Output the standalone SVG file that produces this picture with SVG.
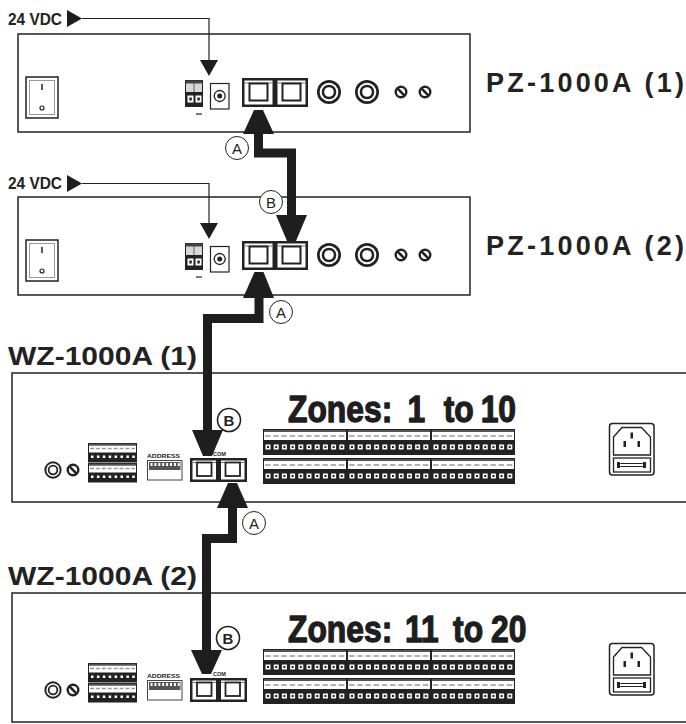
<svg xmlns="http://www.w3.org/2000/svg" width="686" height="724" viewBox="0 0 686 724">
<style>
.panel{fill:#fff;stroke:#222;stroke-width:1.5}
.lbl{font-family:"Liberation Sans",Arial,sans-serif;font-weight:bold;fill:#222}
.zt{font-family:"Liberation Sans",Arial,sans-serif;font-weight:bold;font-size:37px;fill:#1e1e1e;stroke:#1e1e1e;stroke-width:1.3;stroke-linejoin:round}
.conn{fill:none;stroke:#1e1e1e;stroke-width:9;stroke-linejoin:miter}
.head{fill:#1e1e1e}
.wire{fill:none;stroke:#222;stroke-width:1.2}
.circ{fill:#fff;stroke:#222;stroke-width:1}
.circb{fill:#fff;stroke:#222;stroke-width:1.6}
.ctxt{font-family:"Liberation Sans",Arial,sans-serif;font-size:15px;fill:#222;text-anchor:middle}
.ctxtb{font-family:"Liberation Sans",Arial,sans-serif;font-size:15px;font-weight:bold;fill:#222;text-anchor:middle}
.tiny{font-family:"Liberation Sans",Arial,sans-serif;font-weight:bold;font-size:6px;fill:#222}
.pin{fill:#fff}
.pinc{fill:#222}
</style>
<defs>
 <g id="rjport">
  <rect x="2.5" y="2.5" width="28" height="24" fill="#fff"/>
  <line x1="2.5" y1="5" x2="30.5" y2="5" stroke="#777" stroke-width="1"/>
  <rect x="7.5" y="5.5" width="18" height="17" fill="none" stroke="#222" stroke-width="2"/>
 </g>
 <g id="rjpz">
  <rect x="0" y="0" width="66" height="29" fill="#222"/>
  <use href="#rjport"/>
  <use href="#rjport" x="33"/>
 </g>
 <g id="rjwport">
  <rect x="2.5" y="2.5" width="23.5" height="19" fill="#fff"/>
  <line x1="2.5" y1="4.5" x2="26" y2="4.5" stroke="#777" stroke-width="1"/>
  <rect x="7" y="4.5" width="14.5" height="13.5" fill="none" stroke="#222" stroke-width="1.8"/>
 </g>
 <g id="rjwz">
  <rect x="0" y="0" width="57" height="24" fill="#222"/>
  <use href="#rjwport"/>
  <use href="#rjwport" x="28.5"/>
 </g>
 <g id="rca">
  <circle r="12" fill="#222"/>
  <circle r="9.3" fill="#fff"/>
  <circle r="7.3" fill="#222"/>
  <circle r="4.8" fill="#fff"/>
 </g>
 <g id="scr">
  <circle r="5.3" fill="#fff" stroke="#222" stroke-width="2.4"/>
  <line x1="-3.8" y1="-3.8" x2="3.8" y2="3.8" stroke="#222" stroke-width="2.6"/>
 </g>
 <g id="zb">
  <rect x="0.5" y="0.5" width="83" height="25" fill="#fff" stroke="#222" stroke-width="1"/>
  <line x1="1" y1="2" x2="83" y2="2" stroke="#555" stroke-width="2"/>
  <line x1="2" y1="7" x2="82" y2="7" stroke="#999" stroke-width="1.5" stroke-dasharray="5.5 2.7"/>
  <rect x="0.5" y="11" width="83" height="14.5" fill="#222"/>
  <g class="pin">
   <rect x="2.5" y="15.5" width="5" height="5"/><rect x="10.7" y="15.5" width="5" height="5"/><rect x="18.9" y="15.5" width="5" height="5"/><rect x="27.1" y="15.5" width="5" height="5"/><rect x="35.3" y="15.5" width="5" height="5"/><rect x="43.5" y="15.5" width="5" height="5"/><rect x="51.7" y="15.5" width="5" height="5"/><rect x="59.9" y="15.5" width="5" height="5"/><rect x="68.1" y="15.5" width="5" height="5"/><rect x="76.3" y="15.5" width="5" height="5"/>
  </g>
  <g class="pinc">
   <rect x="4" y="17" width="2" height="2"/><rect x="12.2" y="17" width="2" height="2"/><rect x="20.4" y="17" width="2" height="2"/><rect x="28.6" y="17" width="2" height="2"/><rect x="36.8" y="17" width="2" height="2"/><rect x="45" y="17" width="2" height="2"/><rect x="53.2" y="17" width="2" height="2"/><rect x="61.4" y="17" width="2" height="2"/><rect x="69.6" y="17" width="2" height="2"/><rect x="77.8" y="17" width="2" height="2"/>
  </g>
 </g>
 <g id="lb">
  <rect x="0.5" y="0.5" width="48" height="18.5" fill="#fff" stroke="#222" stroke-width="1"/>
  <line x1="1" y1="1.8" x2="48" y2="1.8" stroke="#555" stroke-width="2"/>
  <line x1="2" y1="5.5" x2="47" y2="5.5" stroke="#999" stroke-width="1.3" stroke-dasharray="4 1.9"/>
  <rect x="0.5" y="9.5" width="48" height="9.5" fill="#222"/>
  <g class="pin">
   <rect x="3" y="12.5" width="2.5" height="2.5"/><rect x="8.9" y="12.5" width="2.5" height="2.5"/><rect x="14.8" y="12.5" width="2.5" height="2.5"/><rect x="20.7" y="12.5" width="2.5" height="2.5"/><rect x="26.6" y="12.5" width="2.5" height="2.5"/><rect x="32.5" y="12.5" width="2.5" height="2.5"/><rect x="38.4" y="12.5" width="2.5" height="2.5"/><rect x="44.3" y="12.5" width="2.5" height="2.5"/>
  </g>
 </g>
 <g id="pzbody">
  <rect class="panel" x="18" y="34" width="452" height="98"/>
  <rect x="26" y="77" width="32" height="41" fill="#fff" stroke="#222" stroke-width="1.5"/>
  <rect x="29.5" y="80.5" width="25" height="34" fill="none" stroke="#999" stroke-width="1"/>
  <line x1="42" y1="84" x2="42" y2="90" stroke="#222" stroke-width="1.5"/>
  <circle cx="42" cy="108" r="2" fill="none" stroke="#222" stroke-width="1.2"/>
  <rect x="185.5" y="80.5" width="17" height="26" fill="#d8d8d8" stroke="#222" stroke-width="1"/>
  <rect x="185.5" y="80.5" width="17" height="3" fill="#444"/>
  <line x1="194" y1="83" x2="194" y2="92" stroke="#444" stroke-width="0.8"/>
  <rect x="185.5" y="92" width="17" height="14.5" fill="#222"/>
  <rect x="187.5" y="95.5" width="6" height="7" fill="#fff"/><rect x="189.3" y="97.5" width="2.5" height="3" fill="#222"/>
  <rect x="195.5" y="95.5" width="6" height="7" fill="#fff"/><rect x="197.3" y="97.5" width="2.5" height="3" fill="#222"/>
  <line x1="196" y1="114" x2="202" y2="114" stroke="#222" stroke-width="1.2"/>
  <rect x="210.5" y="83.5" width="18.5" height="25.5" fill="#fff" stroke="#222" stroke-width="1.2"/>
  <circle cx="219.7" cy="96" r="5.5" fill="none" stroke="#222" stroke-width="1.3"/>
  <circle cx="219.7" cy="96" r="2.5" fill="#222"/>
  <use href="#rjpz" x="242" y="78"/>
  <use href="#rca" x="329" y="92"/>
  <use href="#rca" x="367" y="92"/>
  <use href="#scr" x="401" y="92"/>
  <use href="#scr" x="425" y="92"/>
 </g>
 <g id="wzbody">
  <rect class="panel" x="12" y="373" width="690" height="129"/>
  <use href="#rca" transform="translate(53,470) scale(0.72)"/>
  <use href="#scr" x="73" y="470"/>
  <use href="#lb" x="88" y="443"/>
  <use href="#lb" x="88" y="463"/>
  <text class="tiny" x="147" y="458" textLength="33" lengthAdjust="spacingAndGlyphs">ADDRESS</text>
  <rect x="147.5" y="460.5" width="34.5" height="19.5" fill="#fff" stroke="#444" stroke-width="1"/>
  <rect x="149" y="462" width="31.5" height="8" fill="#555"/>
  <g fill="#fff"><rect x="150.5" y="463" width="2" height="3"/><rect x="154.4" y="463" width="2" height="3"/><rect x="158.3" y="463" width="2" height="3"/><rect x="162.2" y="463" width="2" height="3"/><rect x="166.1" y="463" width="2" height="3"/><rect x="170" y="463" width="2" height="3"/><rect x="173.9" y="463" width="2" height="3"/><rect x="177.8" y="463" width="2" height="3"/></g>
  <text class="tiny" x="213" y="456" textLength="13" lengthAdjust="spacingAndGlyphs">COM</text>
  <use href="#rjwz" x="190" y="458"/>
  <use href="#zb" x="263" y="429"/>
  <use href="#zb" x="347" y="429"/>
  <use href="#zb" x="431" y="429"/>
  <use href="#zb" x="263" y="458"/>
  <use href="#zb" x="347" y="458"/>
  <use href="#zb" x="431" y="458"/>
  <rect x="609.5" y="423.5" width="44.5" height="51.5" rx="3" fill="#fff" stroke="#222" stroke-width="1.5"/>
  <path d="M613.5 437 L622 427.5 H641.5 L650.5 437 V455 H613.5 Z" fill="#fff" stroke="#222" stroke-width="1.3"/>
  <rect x="630.5" y="432.5" width="2.5" height="6" fill="#222"/>
  <rect x="623.5" y="441" width="2.5" height="6" fill="#222"/>
  <rect x="637.5" y="441" width="2.5" height="6" fill="#222"/>
  <rect x="613.5" y="458" width="37" height="14" fill="#fff" stroke="#222" stroke-width="1.3"/>
  <rect x="619" y="463.5" width="25" height="3" rx="1.5" fill="none" stroke="#222" stroke-width="1"/>
  <rect x="617" y="462" width="3" height="6" fill="#222"/>
  <rect x="643" y="462" width="3" height="6" fill="#222"/>
 </g>
</defs>

<g id="pz1">
 <use href="#pzbody"/>
 <text class="lbl" x="486" y="92" font-size="27" textLength="198" lengthAdjust="spacing">PZ-1000A (1)</text>
 <text class="lbl" x="8" y="25" font-size="17" textLength="54" lengthAdjust="spacingAndGlyphs">24 VDC</text>
</g>
<g id="pz2">
 <use href="#pzbody" y="163"/>
 <text class="lbl" x="486" y="255" font-size="27" textLength="198" lengthAdjust="spacing">PZ-1000A (2)</text>
 <text class="lbl" x="8" y="189" font-size="17" textLength="54" lengthAdjust="spacingAndGlyphs">24 VDC</text>
</g>
<g id="wz1">
 <use href="#wzbody"/>
 <text class="lbl" x="8" y="365" font-size="26" textLength="189" lengthAdjust="spacingAndGlyphs">WZ-1000A (1)</text>
 <text class="zt" transform="translate(288,422) scale(0.86,1)"><tspan x="0">Zones: </tspan><tspan x="139">1 </tspan><tspan x="181">to </tspan><tspan x="224">10</tspan></text>
</g>
<g id="wz2">
 <use href="#wzbody" y="220"/>
 <text class="lbl" x="8" y="585" font-size="26" textLength="189" lengthAdjust="spacingAndGlyphs">WZ-1000A (2)</text>
 <text class="zt" transform="translate(288,642) scale(0.86,1)"><tspan x="0">Zones: </tspan><tspan x="136">11 </tspan><tspan x="192">to </tspan><tspan x="236">20</tspan></text>
</g>

<g id="connectors">
 <polygon class="head" points="67,10 82,18.5 67,27"/>
 <polyline class="wire" points="82,18.5 209,18.5 209,61"/>
 <polygon class="head" points="200,60 218,60 209,76"/>
 <polygon class="head" points="67,175 82,183.5 67,192"/>
 <polyline class="wire" points="82,183.5 209,183.5 209,224"/>
 <polygon class="head" points="200,223 218,223 209,239"/>

 <polyline class="conn" points="258.5,130 258.5,153 291.5,153 291.5,218"/>
 <polygon class="head" points="254,110 263,110 274,134 243,134"/>
 <polygon class="head" points="276,215 307,215 296,241 287,241"/>

 <polyline class="conn" points="259,295 259,318.5 207.5,318.5 207.5,432"/>
 <polygon class="head" points="254.5,272 263.5,272 274,298 243,298"/>
 <polygon class="head" points="192,430 223,430 212,456 203,456"/>

 <polyline class="conn" points="232.5,505 232.5,538.5 206.5,538.5 206.5,652"/>
 <polygon class="head" points="228,483 237,483 248,508 217,508"/>
 <polygon class="head" points="191,650 222,650 211,674 202,674"/>

 <circle class="circ" cx="237" cy="148" r="11.5"/><text class="ctxt" x="237" y="153.5">A</text>
 <circle class="circ" cx="271" cy="202" r="11.5"/><text class="ctxt" x="271" y="207.5">B</text>
 <circle class="circ" cx="281" cy="312" r="11.5"/><text class="ctxt" x="281" y="317.5">A</text>
 <circle class="circb" cx="229" cy="420" r="11.5"/><text class="ctxtb" x="229" y="425.5">B</text>
 <circle class="circ" cx="254" cy="523" r="11.5"/><text class="ctxt" x="254" y="528.5">A</text>
 <circle class="circb" cx="228" cy="638" r="11.5"/><text class="ctxtb" x="228" y="643.5">B</text>
</g>
</svg>
